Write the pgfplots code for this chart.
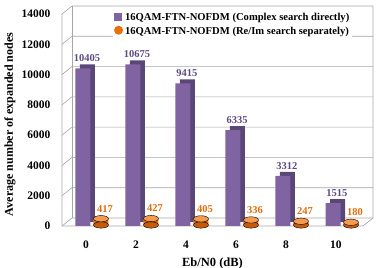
\documentclass[border=0pt]{standalone}
\usepackage{pgfplots}
\pgfplotsset{compat=1.18}
\usepackage{fontspec}
\setmainfont{Liberation Serif}
\definecolor{pfront}{HTML}{8064A2}
\definecolor{pside}{HTML}{5A4677}
\definecolor{ptext}{HTML}{5F4A85}
\definecolor{ofront}{HTML}{E8700F}
\definecolor{oside}{HTML}{C45C0C}
\definecolor{otop}{HTML}{F59A4E}
\definecolor{otext}{HTML}{E36C0A}
\definecolor{wall}{HTML}{A6A6A6}
\begin{document}
\begin{tikzpicture}
\path[use as bounding box] (0,0) rectangle (381pt,268pt);
\begin{axis}[
  at={(62pt,42pt)}, anchor=south west,
  scale only axis, width=301pt, height=212pt,
  xmin=-0.96, xmax=11.08, ymin=0, ymax=14000,
  clip=false,
  ybar, bar width=15pt,
  axis line style={draw=none},
  major tick length=0pt,
  xtick={0,2,4,6,8,10},
  ytick={0,2000,4000,6000,8000,10000,12000,14000},
  scaled y ticks=false,
  /pgf/number format/.cd, fixed, set thousands separator={}, assume math mode=true,
  /pgfplots/.cd,
  ticklabel style={font=\fontsize{11.5}{12}\selectfont\bfseries},
  xticklabel style={yshift=-11pt},
  yticklabel style={xshift=-8pt},
  xlabel={Eb/N0 (dB)},
  xlabel style={font=\fontsize{12.5}{13}\selectfont\bfseries, at={(axis description cs:0.5,-0.175)}, anchor=center},
  ylabel={Average number of expanded nodes},
  ylabel style={font=\fontsize{12}{13}\selectfont\bfseries, at={(axis description cs:-0.173,0.479)}, anchor=center, rotate=0},
  legend style={at={(axis description cs:0.169,1.02)}, anchor=north west, draw=none, fill=white,
     font=\fontsize{10.6}{11}\selectfont\bfseries, row sep=1pt, inner sep=1pt},
  legend cell align=left,
]
% walls and floor
\pgfplotsinvokeforeach{0,2000,4000,6000,8000,10000,12000,14000}{
  \draw[wall, line width=0.6pt] (axis cs:-0.96,#1) -- ([shift={(10pt,8pt)}]axis cs:-0.96,#1) -- ([shift={(10pt,8pt)}]axis cs:11.08,#1);
}
\draw[wall, line width=0.6pt] (axis cs:-0.96,14000) -- (axis cs:-0.96,0) -- (axis cs:11.08,0) -- ([shift={(10pt,8pt)}]axis cs:11.08,0) -- ([shift={(10pt,8pt)}]axis cs:11.08,14000);
\draw[wall, line width=0.6pt] ([shift={(10pt,8pt)}]axis cs:-0.96,0) -- ([shift={(10pt,8pt)}]axis cs:-0.96,14000);
% purple bars: depth then front
\addplot[fill=pside, draw=none, bar shift=-3pt, xshift=4.5pt, yshift=4pt, forget plot]
  coordinates {(0,10405) (2,10675) (4,9415) (6,6335) (8,3312) (10,1515)};
\addplot[fill=pfront, draw=none, bar shift=-3pt,
  legend image code/.code={\fill[pfront] (0pt,-4pt) rectangle (8pt,4pt);},
  nodes near coords,
  every node near coord/.append style={font=\fontsize{10.5}{11}\selectfont\bfseries, text=ptext, xshift=4pt, yshift=3pt}]
  coordinates {(0,10405) (2,10675) (4,9415) (6,6335) (8,3312) (10,1515)};
\addlegendentry{16QAM-FTN-NOFDM (Complex search directly)}
% orange cylinders: bottom cap, body, top cap
\addplot[only marks, mark=*, mark size=7.5pt, mark options={draw=none, fill=oside, yscale=0.42}, xshift=15pt, yshift=1pt, forget plot]
  coordinates {(0,0) (2,0) (4,0) (6,0) (8,0) (10,0)};
\addplot[fill=ofront, draw=none, bar shift=15pt, yshift=1pt,
  legend image code/.code={\fill[ofront] (4.5pt,0pt) circle (4.5pt);},
  nodes near coords,
  every node near coord/.append style={font=\fontsize{10.5}{11}\selectfont\bfseries, text=otext, xshift=4pt, yshift=3pt}]
  coordinates {(0,417) (2,427) (4,405) (6,336) (8,247) (10,180)};
\addlegendentry{16QAM-FTN-NOFDM (Re/Im search separately)}
\addplot[only marks, mark=*, mark size=7.5pt, mark options={draw=none, fill=otop, yscale=0.42}, xshift=15pt, yshift=1pt, forget plot]
  coordinates {(0,417) (2,427) (4,405) (6,336) (8,247) (10,180)};
\end{axis}
\end{tikzpicture}
\end{document}
